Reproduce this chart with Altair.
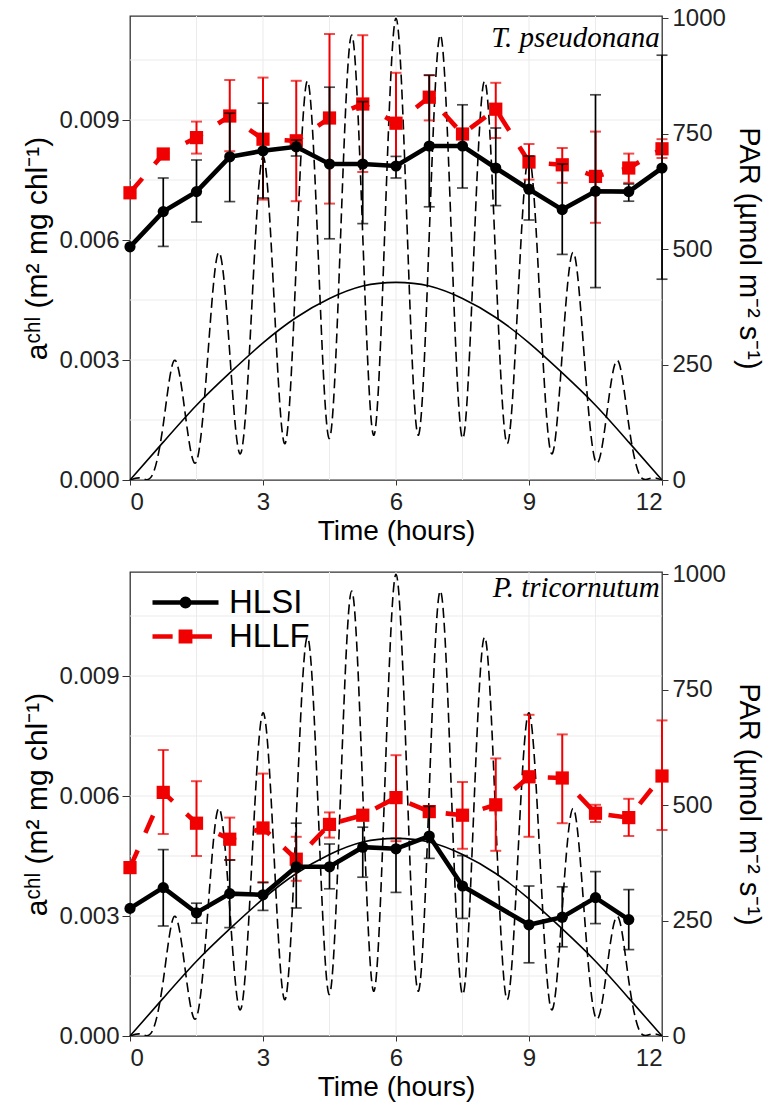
import altair as alt
import pandas as pd

# ---------------- data ----------------
T_OBS = [0, 0.75, 1.5, 2.25, 3, 3.75, 4.5, 5.25, 6, 6.75, 7.5, 8.25, 9, 9.75, 10.5, 11.25, 12]

# T. pseudonana
TP_HLSI = [0.00583, 0.00671, 0.00721, 0.00808, 0.00823, 0.00833, 0.00790, 0.00790, 0.00785,
           0.00835, 0.00835, 0.00780, 0.00727, 0.00676, 0.00722, 0.00721, 0.00780]
TP_HLSI_LO = [None, 0.00584, 0.00645, 0.00696, 0.00705, 0.00810, 0.00603, 0.00641, 0.00755,
              0.00683, 0.00730, 0.00686, 0.00650, 0.00564, 0.00481, 0.00697, 0.00502]
TP_HLSI_HI = [None, 0.00755, 0.00800, 0.00917, 0.00942, 0.00850, 0.00982, 0.00946, 0.00809,
              0.01012, 0.00938, 0.00880, 0.00810, 0.00790, 0.00963, 0.00740, 0.01062]
TP_HLLF = [0.00718, 0.00815, 0.00856, 0.00910, 0.00852, 0.00848, 0.00905, 0.00940, 0.00892,
           0.00957, 0.00865, 0.00927, 0.00795, 0.00788, 0.00759, 0.00780, 0.00828]
TP_HLLF_LO = [None, None, 0.00816, 0.00822, 0.00701, 0.00697, 0.00691, 0.00770, 0.00784,
              0.00899, None, 0.00855, 0.00751, 0.00743, 0.00643, 0.00743, 0.00805]
TP_HLLF_HI = [None, None, 0.00896, 0.01000, 0.01006, 0.00998, 0.01115, 0.01112, 0.01018,
              0.01012, None, 0.00993, 0.00840, 0.00830, 0.00871, 0.00816, 0.00852]

# P. tricornutum
PT_HLSI = [0.00319, 0.00371, 0.00308, 0.00356, 0.00353, 0.00423, 0.00423, 0.00472, 0.00468,
           0.00500, 0.00375, None, 0.00278, 0.00297, 0.00346, 0.00291, None]
PT_HLSI_LO = [None, 0.00275, 0.00282, 0.00271, 0.00314, 0.00320, 0.00368, 0.00397, 0.00359,
              0.00444, 0.00294, None, 0.00183, 0.00223, 0.00281, 0.00216, None]
PT_HLSI_HI = [None, 0.00466, 0.00332, 0.00440, 0.00384, 0.00532, 0.00480, 0.00522, 0.00494,
              0.00574, 0.00451, None, 0.00375, 0.00373, 0.00411, 0.00366, None]
PT_HLLF = [0.00421, 0.00609, 0.00532, 0.00492, 0.00520, 0.00442, 0.00529, 0.00552, 0.00596,
           0.00561, 0.00552, 0.00578, 0.00648, 0.00645, 0.00557, 0.00546, 0.00650]
PT_HLLF_LO = [None, 0.00505, 0.00450, 0.00440, 0.00384, 0.00388, 0.00496, None, 0.00487,
              None, 0.00468, 0.00463, 0.00498, 0.00532, 0.00535, 0.00500, 0.00515]
PT_HLLF_HI = [None, 0.00715, 0.00637, 0.00546, 0.00656, 0.00498, 0.00559, None, 0.00702,
              None, 0.00635, 0.00694, 0.00803, 0.00754, 0.00578, 0.00593, 0.00789]

# PAR curves (right axis)
PAR_SMOOTH = [0, 82, 162, 232, 297, 352, 393, 420, 428, 420, 393, 352, 297, 232, 162, 82, 0]
PAR_FL_T = [i * 0.25 for i in range(49)]
PAR_FL = [0, 4, 10, 120, 259, 140, 40, 262, 493, 275, 58, 380, 700, 390, 79, 470, 864,
          478, 90, 527, 964, 530, 97, 548, 1000, 548, 97, 530, 964, 527, 90, 478, 864,
          470, 79, 390, 700, 380, 58, 275, 493, 262, 40, 140, 259, 120, 10, 4, 0]

X_TICKS = [0, 3, 6, 9, 12]
X_GRID = [1.5, 3, 4.5, 6, 7.5, 9, 10.5]
Y_TICKS = [0, 0.003, 0.006, 0.009]
Y_GRID = [0.0015, 0.003, 0.0045, 0.006, 0.0075, 0.009, 0.0105]
PAR_TICKS = [0, 250, 500, 750, 1000]
SERIES = ["HLSI", "HLLF"]

Y_MAX = 0.0116
PAR_MAX = 1005
FONT = "Liberation Sans"
RED = "#f00000"
W, H = 532, 464

LEFT_TITLE = "a\u1d9c\u02b0\u02e1  (m\u00b2  mg  chl\u207b\u00b9)"
RIGHT_TITLE = "PAR  (\u00b5mol  m\u207b\u00b2  s\u207b\u00b9)"

PATH_HLSI = "M-1,0H1M0.11,0A0.11,0.11,0,1,1,-0.11,0A0.11,0.11,0,1,1,0.11,0Z"
PATH_HLLF = "M-1,0H-0.39M0.2,0H0.8M-0.14,-0.14H0.14V0.14H-0.14Z"
LEG_SIZE = 4356

X_AXIS = dict(values=X_TICKS, title="Time (hours)", grid=False, domain=False,
              labelFont=FONT, labelFontSize=24, labelColor="#222",
              titleFont=FONT, titleFontSize=28, titleFontWeight="normal",
              titleColor="#000", tickSize=5, tickColor="#333",
              labelPadding=5, titlePadding=3)


def xenc(field):
    return alt.X(f"{field}:Q",
                 scale=alt.Scale(domain=[0, 12], nice=False, zero=False),
                 axis=alt.Axis(**X_AXIS))


def yleft(field):
    return alt.Y(f"{field}:Q",
                 scale=alt.Scale(domain=[0, Y_MAX], nice=False, zero=False),
                 axis=alt.Axis(orient="left", values=Y_TICKS, format=".3f", title=LEFT_TITLE,
                               grid=False, domain=False, labelFont=FONT, labelFontSize=24,
                               labelColor="#222", titleFont=FONT, titleFontSize=30,
                               titleFontWeight="normal", titleColor="#000", tickSize=8,
                               tickColor="#333", labelPadding=3, titlePadding=6))


def yright(field):
    return alt.Y(f"{field}:Q",
                 scale=alt.Scale(domain=[0, PAR_MAX], nice=False, zero=False),
                 axis=alt.Axis(orient="right", values=PAR_TICKS, format="d", title=RIGHT_TITLE,
                               grid=False, domain=False, labelFont=FONT, labelFontSize=24,
                               labelColor="#222", titleFont=FONT, titleFontSize=29,
                               titleFontWeight="normal", titleColor="#000", tickSize=6,
                               tickColor="#333", labelPadding=4, titlePadding=8))


def series_layers(vals, lo, hi, color, shape, dashed, size, bar_w):
    df = pd.DataFrame({"t": T_OBS, "v": vals, "lo": lo, "hi": hi})
    line_df = df.dropna(subset=["v"])
    err_df = df.dropna(subset=["lo", "hi"])
    caps = pd.concat([err_df[["t", "lo"]].rename(columns={"lo": "c"}),
                      err_df[["t", "hi"]].rename(columns={"hi": "c"})])
    line_kw = dict(color=color, strokeWidth=4.6)
    if dashed:
        line_kw["strokeDash"] = [19, 19]
    line = alt.Chart(line_df).mark_line(**line_kw).encode(x=xenc("t"), y=yleft("v"))
    pts = alt.Chart(line_df).mark_point(shape=shape, filled=True, opacity=1, size=size,
                                        color=color).encode(x=xenc("t"), y=yleft("v"))
    bars = alt.Chart(err_df).mark_rule(color=color, strokeWidth=bar_w).encode(
        x=xenc("t"), y=yleft("lo"), y2=alt.Y2("hi:Q"))
    capm = alt.Chart(caps).mark_tick(color=color, orient="horizontal", size=11,
                                     thickness=bar_w).encode(x=xenc("t"), y=yleft("c"))
    return line, pts, bars, capm


def legend_def(path, color, ly):
    return alt.Legend(title=None, orient="none", legendX=20, legendY=ly,
                      labelFont=FONT, labelFontSize=33, labelColor="#000", labelOffset=8,
                      symbolSize=LEG_SIZE, symbolStrokeWidth=4.6, padding=0, symbolOpacity=1,
                      symbolType=path, symbolFillColor=color, symbolStrokeColor=color)


def panel(hlsi, hlsi_lo, hlsi_hi, hllf, hllf_lo, hllf_hi, label, label_y, legend):
    gx = alt.Chart(pd.DataFrame({"g": X_GRID})).mark_rule(color="#ebebeb", strokeWidth=1).encode(
        x=xenc("g"))
    gy = alt.Chart(pd.DataFrame({"g": Y_GRID})).mark_rule(color="#ebebeb", strokeWidth=1).encode(
        x=alt.value(0), x2=alt.value(W),
        y=alt.Y("g:Q", scale=alt.Scale(domain=[0, Y_MAX], nice=False, zero=False), axis=None))
    grid = alt.layer(gx, gy)

    par_s = alt.Chart(pd.DataFrame({"t": T_OBS, "p": PAR_SMOOTH})).mark_line(
        color="black", strokeWidth=1.6, interpolate="natural").encode(x=xenc("t"), y=yright("p"))
    par_f = alt.Chart(pd.DataFrame({"t": PAR_FL_T, "p": PAR_FL})).mark_line(
        color="black", strokeWidth=1.6, strokeDash=[10, 5], interpolate="natural",
        clip=True).encode(x=xenc("t"), y=yright("p"))
    par = alt.layer(par_s, par_f)

    r_line, r_pts, r_bars, r_caps = series_layers(hllf, hllf_lo, hllf_hi, RED, "square", True, 175, 2)
    b_line, b_pts, b_bars, b_caps = series_layers(hlsi, hlsi_lo, hlsi_hi, "black", "circle", False, 125, 1.7)

    txt = alt.Chart(pd.DataFrame({"s": [label]})).mark_text(
        font="Liberation Serif", fontStyle="italic", fontSize=29, align="right",
        baseline="alphabetic", color="black").encode(
        x=alt.X("xx:Q", scale=alt.Scale(domain=[0, 12], nice=False, zero=False),
                axis=alt.Axis(**X_AXIS)),
        y=yleft("yy"), text="s:N").transform_calculate(xx="11.95", yy=str(label_y))

    data_layers = [r_bars, r_caps, r_line, r_pts, b_line, b_pts, b_bars, b_caps, txt]

    if legend:
        leg_df = pd.DataFrame({"series": SERIES})
        leg1 = alt.Chart(leg_df).mark_point(
            filled=True, color="black", fill="black", stroke="black", strokeWidth=4.6,
            size=LEG_SIZE, opacity=1).encode(
            stroke=alt.Stroke("series:N", scale=alt.Scale(domain=[SERIES[0]], range=["black"]),
                              legend=legend_def(PATH_HLSI, "black", -5)),
        ).transform_filter("false")
        leg2 = alt.Chart(leg_df).mark_point(filled=True).encode(
            fill=alt.Fill("series:N", scale=alt.Scale(domain=[SERIES[1]], range=[RED]),
                          legend=legend_def(PATH_HLLF, RED, 29)),
        ).transform_filter("false")
        data_layers += [leg1, leg2]

    data = alt.layer(*data_layers)
    return alt.layer(grid, par, data).resolve_scale(y="independent").properties(width=W, height=H)


p1 = panel(TP_HLSI, TP_HLSI_LO, TP_HLSI_HI, TP_HLLF, TP_HLLF_LO, TP_HLLF_HI,
           "T. pseudonana", 0.01082, False)
p2 = panel(PT_HLSI, PT_HLSI_LO, PT_HLSI_HI, PT_HLLF, PT_HLLF_LO, PT_HLLF_HI,
           "P. tricornutum", 0.01098, True)

chart = alt.vconcat(p1, p2, spacing=15).resolve_legend(
    stroke="independent", fill="independent"
).configure_view(stroke="#333", strokeWidth=1.3).properties(
    padding={"left": 22, "top": 5, "right": 5, "bottom": 2}, background="white")

chart.save("out.html", embed_options={"renderer": "svg", "actions": False})
